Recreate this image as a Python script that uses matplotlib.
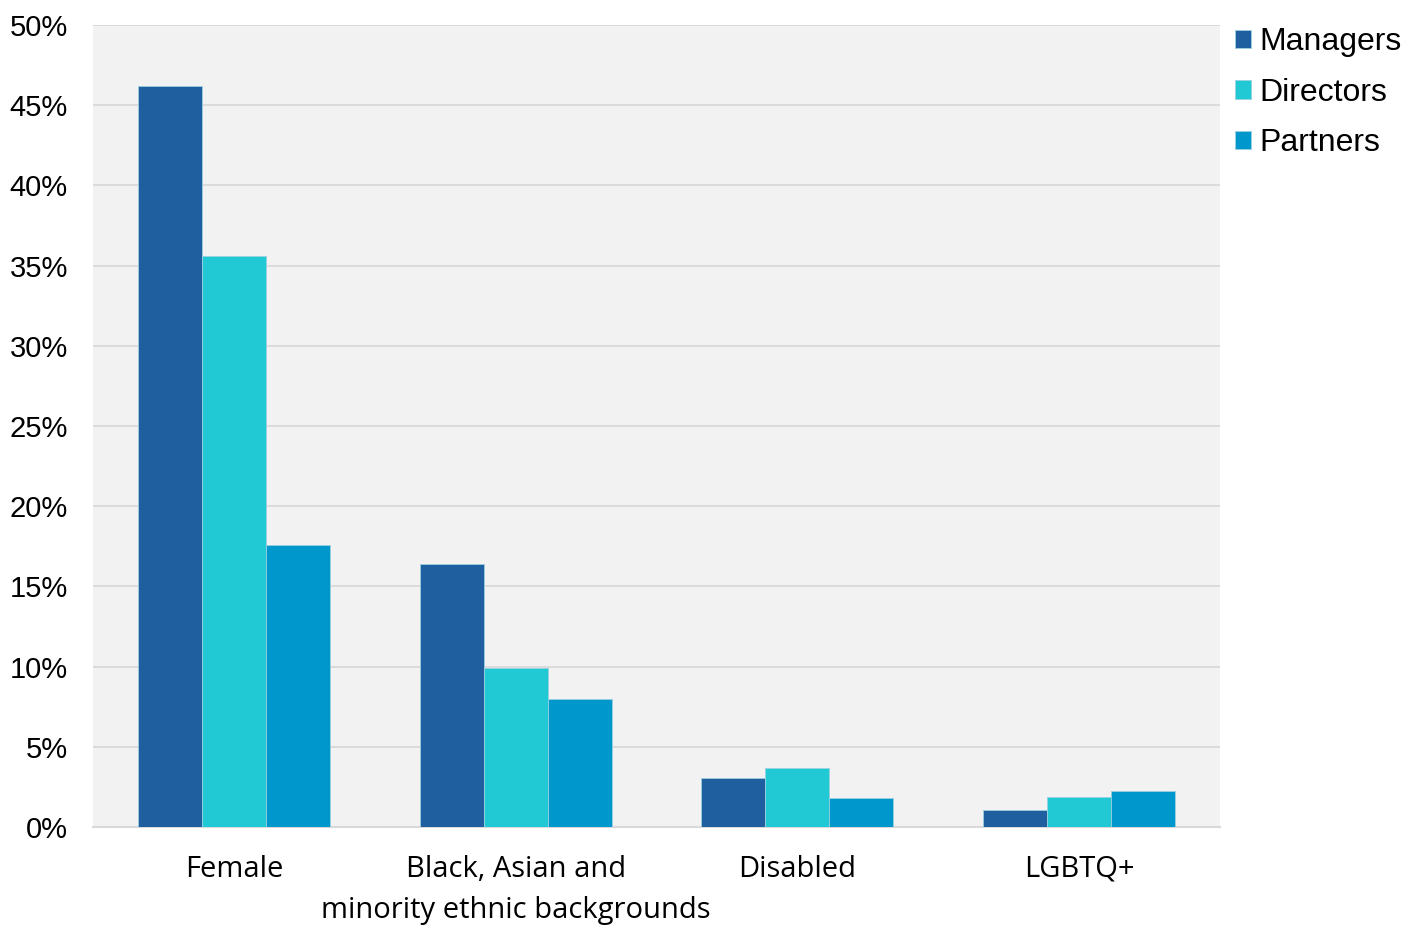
import numpy as np
import matplotlib.pyplot as plt
from matplotlib.ticker import PercentFormatter

categories = ["Female", "Black, Asian and\nminority ethnic backgrounds", "Disabled", "LGBTQ+"]
series_names = ["Managers", "Directors", "Partners"]
managers = [46.2, 16.4, 3.05, 1.05]
directors = [35.6, 9.9, 3.7, 1.85]
partners = [17.6, 8.0, 1.8, 2.25]
y_ticks = [0, 5, 10, 15, 20, 25, 30, 35, 40, 45, 50]

colors = ["#1f5fa0", "#20c9d4", "#0097cd"]

fig = plt.figure(figsize=(14.19, 9.25), dpi=100)
ax = fig.add_axes([0.0655, 0.106, 0.7943, 0.867])
ax.set_facecolor("#f2f2f2")

x = np.arange(len(categories))
width = 0.227
for i, (name, vals) in enumerate(zip(series_names, [managers, directors, partners])):
    ax.bar(x + (i - 1) * width, vals, width, color=colors[i], label=name,
           edgecolor="#9ccfe0", linewidth=0.6, zorder=3)

ax.set_xlim(-0.5, len(categories) - 0.5)
ax.set_ylim(0, 50)
ax.set_yticks(y_ticks)
ax.yaxis.set_major_formatter(PercentFormatter(decimals=0))
ax.grid(axis="y", color="#d9d9d9", linewidth=1.3, zorder=0)
ax.set_axisbelow(True)

for side in ["left", "right", "top"]:
    ax.spines[side].set_visible(False)
ax.spines["bottom"].set_color("#d9d9d9")
ax.spines["bottom"].set_linewidth(1.5)

ax.set_xticks(x)
ax.set_xticklabels(categories, fontsize=21, family="Open Sans", linespacing=1.55)
ax.tick_params(axis="x", length=0, pad=20)
ax.tick_params(axis="y", length=0, pad=18, labelsize=21)
for lbl in ax.get_yticklabels():
    lbl.set_family("Liberation Sans")

leg = ax.legend(loc="upper left", bbox_to_anchor=(1.008, 1.005), frameon=False,
                prop={"family": "Liberation Sans", "size": 23},
                handlelength=0.5, handleheight=0.5, handletextpad=0.25,
                labelspacing=0.64, borderaxespad=0.0, borderpad=0.2)

fig.savefig("out.png", dpi=100)
